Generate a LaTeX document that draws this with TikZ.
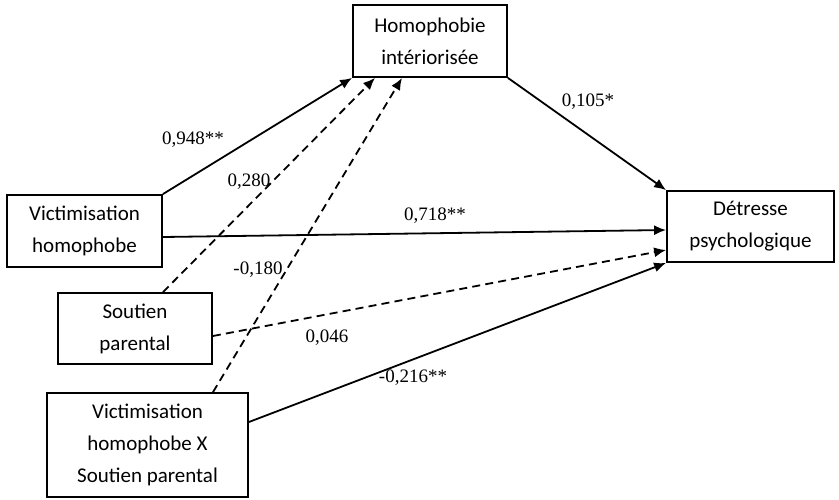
\documentclass[tikz,border=0pt]{standalone}
\usepackage{fontspec}
\setmainfont{Liberation Serif}
\newfontfamily\boxfont{Carlito}
\usepackage{tikz}
\usetikzlibrary{positioning,arrows.meta}

\begin{document}
\begin{tikzpicture}[
  x=0.5pt,y=-0.5pt,
  box/.style={rectangle,draw,line width=0.9pt,align=center,inner sep=0pt,
              font=\boxfont\fontsize{10.5}{16}\selectfont},
  arrow/.style={-{Latex[length=6pt,width=5pt]},line width=0.9pt},
  dasharrow/.style={arrow,dash pattern=on 4pt off 2.6pt},
  coef/.style={font=\fontsize{9.5}{11}\selectfont,inner sep=1pt}
]
\useasboundingbox (0,0) rectangle (839,499);
\node[box,minimum width=77pt,minimum height=36pt] (homo) at (430,41)
  {Homophobie\\intériorisée};
\node[box,minimum width=77.5pt,minimum height=36pt] (vict) at (84.5,231)
  {Victimisation\\homophobe};
\node[box,minimum width=77pt,minimum height=35.5pt] (sout) at (135,328.5)
  {Soutien\\parental};
\node[box,minimum width=100.5pt,minimum height=52pt] (inter) at (147.5,445)
  {Victimisation\\homophobe X\\Soutien parental};
\node[box,minimum width=83.5pt,minimum height=35.5pt] (detr) at (750.5,226.5)
  {Détresse\\psychologique};

% chemins vers le mediateur
\draw[arrow] (vict.north east) -- (homo.south west);
\draw[dasharrow] ([xshift=14pt]sout.north) -- ([xshift=-27.5pt]homo.south);
\draw[dasharrow] ([xshift=32.75pt]inter.north) -- ([xshift=-14pt]homo.south);
% chemins vers la detresse
\draw[arrow] (homo.south east) -- (detr.north west);
\draw[arrow] ([yshift=-3pt]vict.east) -- ([yshift=-1.75pt]detr.west);
\draw[dasharrow] ([yshift=-3.75pt]sout.east) -- ([yshift=-11.75pt]detr.west);
\draw[arrow] ([yshift=11.5pt]inter.east) -- (detr.south west);

% coefficients
\node[coef] (c1) at (193,140) {0,948**};
\node[coef] (c2) at (249,182) {0,280};
\node[coef] (c3) at (258,270) {-0,180};
\node[coef] (c4) at (435,216) {0,718**};
\node[coef] (c5) at (327,338) {0,046};
\node[coef] (c6) at (413,378) {-0,216**};
\node[coef] (c7) at (588,102) {0,105*};
\end{tikzpicture}
\end{document}
